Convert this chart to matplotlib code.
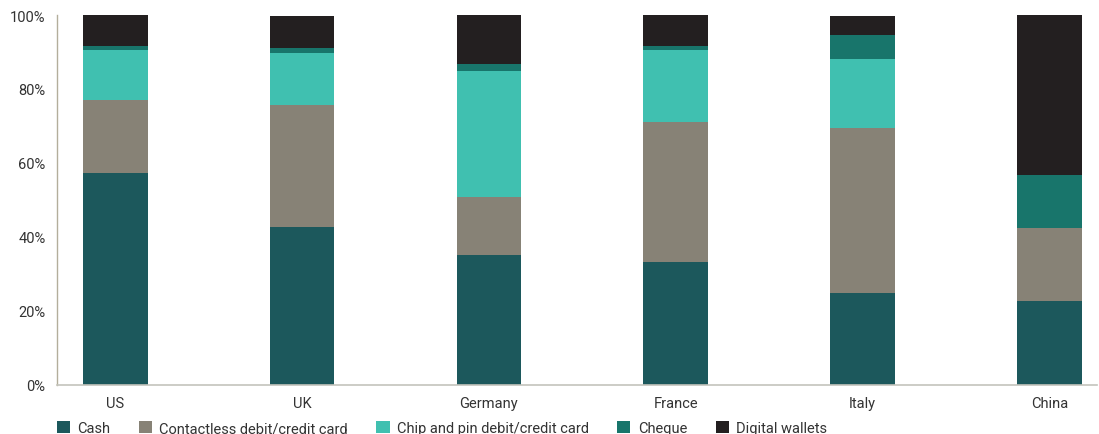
import matplotlib
matplotlib.use("Agg")
import matplotlib.pyplot as plt
import numpy as np

# Share of transactions by payment method (%)
countries = ["US", "UK", "Germany", "France", "Italy", "China"]
cash = [57.3, 42.7, 35.1, 33.2, 24.8, 22.6]
contactless = [19.7, 33.0, 15.7, 37.9, 44.6, 19.8]
chip_pin = [13.5, 14.0, 34.1, 19.4, 18.7, 0.0]
cheque = [1.1, 1.4, 1.9, 1.1, 6.5, 14.3]
digital = [8.4, 8.6, 13.2, 8.4, 5.1, 43.3]

series = [
    ("Cash", cash, "#1c585c"),
    ("Contactless debit/credit card", contactless, "#878276"),
    ("Chip and pin debit/credit card", chip_pin, "#40c0b0"),
    ("Cheque", cheque, "#18756b"),
    ("Digital wallets", digital, "#231f20"),
]

plt.rcParams['font.family'] = ['Roboto', 'DejaVu Sans']

fig = plt.figure(figsize=(10.99, 4.35), dpi=100)
ax = fig.add_axes([0.0516, 0.1133, 0.9464, 0.8499])

x = np.arange(len(countries))
bottom = np.zeros(len(countries))
for name, vals, color in series:
    ax.bar(x, vals, width=0.346, bottom=bottom, color=color, label=name)
    bottom += np.array(vals)

ax.set_xlim(-0.313, 5.254)
ax.set_ylim(0, 100)
ax.set_yticks(range(0, 101, 20))
ax.set_yticklabels([f"{v}%" for v in range(0, 101, 20)])
ax.set_xticks(x)
ax.set_xticklabels(countries)
ax.tick_params(axis='both', length=0, labelsize=10.5, colors="#333333")
ax.tick_params(axis='y', pad=8)
ax.tick_params(axis='x', pad=8)

for side in ["top", "right"]:
    ax.spines[side].set_visible(False)
ax.spines["left"].set_color("#b3ae9c")
ax.spines["bottom"].set_color("#c4c4bc")
ax.spines["left"].set_linewidth(1.0)
ax.spines["bottom"].set_linewidth(1.2)

leg = fig.legend(loc="lower left", bbox_to_anchor=(0.040, -0.033), ncol=5,
                 frameon=False, fontsize=10.5, handlelength=0.9, handleheight=0.9,
                 handletextpad=0.5, columnspacing=1.95, labelcolor="#333333")

fig.savefig("out.png", dpi=100)
